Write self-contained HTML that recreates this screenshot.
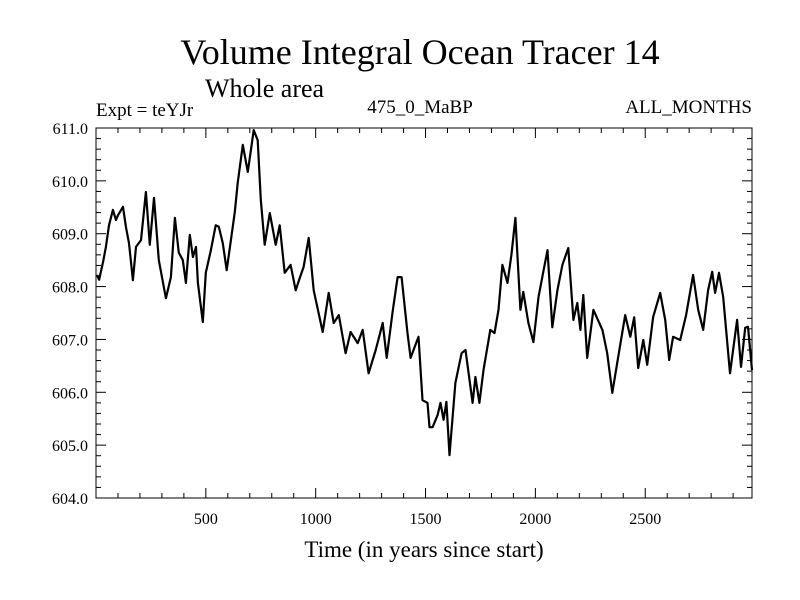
<!DOCTYPE html>
<html><head><meta charset="utf-8"><style>
body{margin:0;background:#fff}
svg{display:block}
text{font-family:"Liberation Serif",serif;fill:#000}
</style></head><body>
<svg id="chart" width="800" height="600">
<text x="420" y="64" font-size="36" text-anchor="middle">Volume Integral Ocean Tracer 14</text>
<text x="205" y="97" font-size="26">Whole area</text>
<text x="96" y="116" font-size="19">Expt = teYJr</text>
<text x="420" y="113" font-size="19" text-anchor="middle">475_0_MaBP</text>
<text x="752" y="113" font-size="19" text-anchor="end">ALL_MONTHS</text>
<text x="424" y="557" font-size="23" text-anchor="middle">Time (in years since start)</text>
<rect x="96" y="128" width="656" height="370" fill="none" stroke="#000" stroke-width="1"/>
<g id="ticks"></g>
<path id="series" fill="none" stroke="#000" stroke-width="2.2" stroke-linejoin="round"/>
</svg>
<script>
const years=[5,14,32,45,59,77,91,100,123,136,150,168,182,205,227,245,264,286,318,341,359,377,395,409,427,441,455,464,486,500,523,545,559,577,595,614,632,645,668,691,705,718,736,750,768,791,818,836,859,886,909,927,945,968,991,1032,1059,1082,1105,1136,1159,1191,1214,1241,1273,1305,1323,1350,1373,1391,1418,1432,1468,1486,1509,1518,1532,1555,1568,1582,1595,1609,1636,1664,1682,1714,1727,1745,1764,1795,1814,1832,1850,1873,1891,1909,1932,1945,1968,1991,2014,2036,2055,2077,2100,2123,2150,2173,2191,2205,2218,2236,2264,2305,2327,2350,2377,2409,2432,2450,2468,2491,2509,2536,2568,2591,2609,2627,2659,2686,2718,2741,2764,2786,2805,2818,2836,2855,2886,2918,2936,2955,2968,2986];
const values=[608.22,608.13,608.46,608.75,609.16,609.45,609.26,609.35,609.51,609.13,608.82,608.12,608.75,608.88,609.79,608.79,609.68,608.50,607.78,608.18,609.30,608.64,608.50,608.07,608.98,608.56,608.75,608.07,607.33,608.26,608.69,609.16,609.13,608.82,608.31,608.88,609.41,609.96,610.68,610.17,610.58,610.96,610.77,609.64,608.79,609.39,608.79,609.16,608.26,608.41,607.93,608.16,608.37,608.92,607.93,607.14,607.88,607.31,607.46,606.74,607.14,606.93,607.18,606.36,606.80,607.31,606.65,607.52,608.18,608.18,607.12,606.65,607.05,605.85,605.80,605.34,605.34,605.57,605.80,605.48,605.82,604.81,606.18,606.74,606.80,605.80,606.29,605.80,606.42,607.18,607.12,607.56,608.41,608.07,608.60,609.30,607.56,607.90,607.31,606.95,607.80,608.28,608.69,607.23,607.93,608.41,608.73,607.37,607.69,607.18,607.84,606.65,607.56,607.18,606.74,605.99,606.67,607.46,607.05,607.42,606.46,606.99,606.52,607.42,607.88,607.37,606.61,607.05,606.99,607.46,608.22,607.56,607.18,607.93,608.28,607.88,608.26,607.80,606.36,607.37,606.48,607.22,607.24,606.42];
const xTicks=[500,1000,1500,2000,2500];
const yTicks=[604,605,606,607,608,609,610,611];
const X0=96,X1=752,Y0=498,Y1=128,XMIN=0,XMAX=2986,YMIN=604,YMAX=611;
const sx=v=>X0+(v-XMIN)/(XMAX-XMIN)*(X1-X0);
const sy=v=>Y0-(v-YMIN)/(YMAX-YMIN)*(Y0-Y1);
const NS="http://www.w3.org/2000/svg";
const g=document.getElementById('ticks');
function line(x1,y1,x2,y2){const l=document.createElementNS(NS,'line');l.setAttribute('x1',x1);l.setAttribute('y1',y1);l.setAttribute('x2',x2);l.setAttribute('y2',y2);l.setAttribute('stroke','#000');l.setAttribute('stroke-width','1');


g.appendChild(l);}
function text(x,y,s,anchor){const t=document.createElementNS(NS,'text');t.setAttribute('x',x);t.setAttribute('y',y);t.setAttribute('font-size','16');t.setAttribute('text-anchor',anchor);t.textContent=s;


g.appendChild(t);}
for(let v=100;v<XMAX;v+=100){const x=sx(v);const L=(v%500===0)?10:5;line(x,Y0,x,Y0-L);line(x,Y1,x,Y1+L);}
xTicks.forEach(v=>text(sx(v),524,String(v),'middle'));
for(let k=0;k<=35;k++){const v=YMIN+k*0.2;const y=sy(v);const L=(k%5===0)?10:5;line(X0,y,X0+L,y);line(X1,y,X1-L,y);}
yTicks.forEach(v=>text(88,sy(v)+6,v.toFixed(1),'end'));
document.getElementById('series').setAttribute('d',years.map((y,i)=>(i?'L':'M')+sx(y).toFixed(1)+','+sy(values[i]).toFixed(1)).join(''));
</script>
</body></html>
